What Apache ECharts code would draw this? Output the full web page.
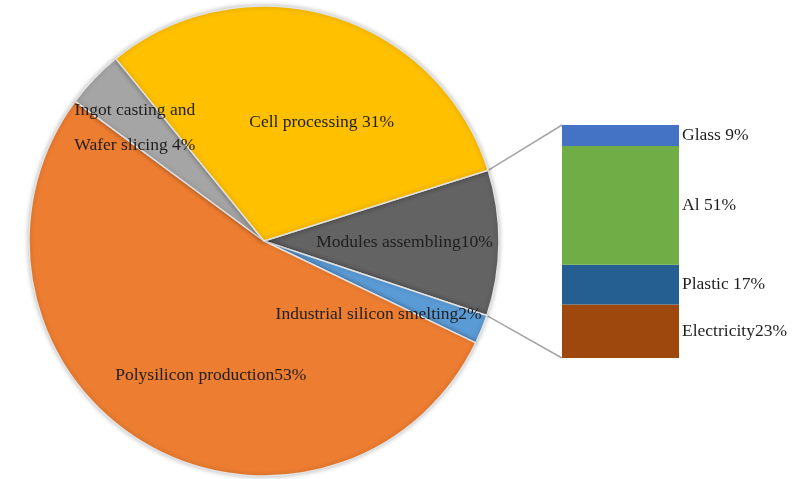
<!DOCTYPE html>
<html>
<head>
<meta charset="utf-8">
<script src="https://cdn.jsdelivr.net/npm/echarts@6/dist/echarts.min.js"></script>
<style>
  html, body { margin: 0; padding: 0; background: #fff; }
  #main { width: 810px; height: 479px; }
</style>
</head>
<body>
<div id="main"></div>
<script>
// pie data (clockwise from the exploded "Modules" slice)
var pieNames = ['Modules assembling', 'Industrial silicon smelting', 'Polysilicon production', 'Ingot casting and\nWafer slicing', 'Cell processing'];
var pieValues = [10, 2, 53, 4, 31];
var pieLabels = ['Modules assembling10%', 'Industrial silicon smelting2%', 'Polysilicon production53%', 'Ingot casting and\nWafer slicing 4%', 'Cell processing 31%'];
var pieColors = ['#636363', '#5B9BD5', '#ED7D31', '#A5A5A5', '#FFC000'];

// breakdown of the modules slice (bottom to top)
var barNames = ['Electricity', 'Plastic', 'Al', 'Glass'];
var barValues = [23, 17, 51, 9];
var barLabels = ['Electricity23%', 'Plastic 17%', 'Al 51%', 'Glass 9%'];
var barColors = ['#9E480E', '#255E91', '#70AD47', '#4472C4'];

var FONT = 'Liberation Serif, Times New Roman, serif';
var pieCenter = [264, 241];
var pieRadius = 235;
var startAngle = 17.5;

// shift of each inside label from its default spot
var labelShift = [[20, 0], [3, 28], [9, 31], [-42, -30], [23, -3]];

function drawChart() {
    var echart = echarts.init(document.getElementById('main'));

    var pieData = pieNames.map(function (n, i) {
        return {
            name: n,
            value: pieValues[i],
            itemStyle: { color: pieColors[i] },
            label: { formatter: pieLabels[i] }
        };
    });

    var barSeries = barNames.map(function (n, i) {
        return {
            name: n,
            type: 'bar',
            stack: 'mod',
            barWidth: '100%',
            data: [barValues[i]],
            itemStyle: { color: barColors[i] },
            label: {
                show: true,
                position: 'right',
                distance: 3,
                formatter: barLabels[i],
                fontFamily: FONT,
                fontSize: 17.5,
                color: '#1e1e1e'
            },
            silent: true
        };
    });

    var grid = { left: 562, top: 125, width: 117, height: 233 };

    // connector lines from the modules slice edges to the bar corners
    var total = pieValues.reduce(function (a, b) { return a + b; }, 0);
    var a1 = startAngle * Math.PI / 180;
    var a2 = (startAngle - pieValues[0] / total * 360) * Math.PI / 180;
    var connectors = [
        [a1, grid.top],
        [a2, grid.top + grid.height]
    ].map(function (c) {
        return {
            type: 'line',
            silent: true,
            shape: {
                x1: pieCenter[0] + pieRadius * Math.cos(c[0]),
                y1: pieCenter[1] - pieRadius * Math.sin(c[0]),
                x2: grid.left, y2: c[1]
            },
            style: { stroke: '#A5A5A5', lineWidth: 1.5 }
        };
    });

    var option = {
        animation: false,
        grid: grid,
        xAxis: { type: 'category', data: ['Modules'], show: false },
        yAxis: { type: 'value', min: 0, max: 100, show: false },
        graphic: connectors,
        series: [
            {
                name: 'Energy',
                type: 'pie',
                center: pieCenter,
                radius: pieRadius,
                startAngle: startAngle,
                clockwise: true,
                silent: true,
                itemStyle: {
                    borderColor: '#e2e2e2',
                    borderWidth: 1.5,
                    shadowBlur: 5,
                    shadowColor: 'rgba(0,0,0,0.25)'
                },
                label: {
                    show: true,
                    position: 'inside',
                    fontFamily: FONT,
                    fontSize: 17.5,
                    lineHeight: 35,
                    color: '#1e1e1e'
                },
                labelLine: { show: false },
                labelLayout: function (params) {
                    var s = labelShift[params.dataIndex];
                    return { dx: s[0], dy: s[1] };
                },
                data: pieData
            }
        ].concat(barSeries)
    };
    echart.setOption(option);
}
drawChart();
</script>
</body>
</html>
